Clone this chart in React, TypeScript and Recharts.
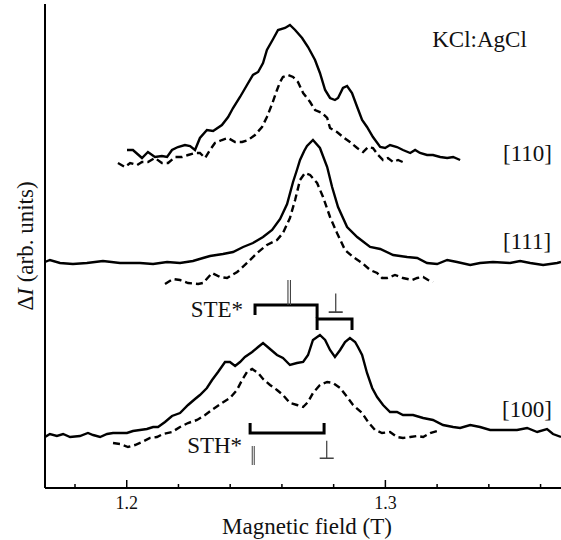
import React from "react";
import { LineChart, Line, XAxis, YAxis, ReferenceDot } from "recharts";

// ---- data: [magnetic field (T), ΔI (arb. units)] ----
const S110_SOLID: number[][] = [
  [1.2001,33.8],[1.2024,33.8],[1.2059,33.0],[1.2082,33.6],[1.2109,33.1],[1.2136,33.2],[1.2156,33.1],[1.2175,33.8],[1.2198,34.1],[1.2225,34.3],[1.2245,34.2],[1.2264,33.8],[1.2283,35.0],[1.2310,35.8],[1.2334,35.7],[1.2368,36.3],[1.2392,37.1],[1.2411,38.0],[1.2438,39.1],[1.2465,40.3],[1.2488,41.3],[1.2508,41.6],[1.2527,42.5],[1.2542,43.8],[1.2566,44.9],[1.2585,45.8],[1.2612,46.0],[1.2631,46.3],[1.2651,45.8],[1.2678,45.0],[1.2701,44.1],[1.2728,42.8],[1.2747,41.5],[1.2767,39.8],[1.2786,39.0],[1.2805,38.8],[1.2817,39.0],[1.2836,40.0],[1.2852,40.2],[1.2871,39.5],[1.2891,38.1],[1.2910,36.8],[1.2929,36.1],[1.2952,35.1],[1.2980,34.1],[1.2999,34.0],[1.3018,34.3],[1.3045,34.1],[1.3068,33.8],[1.3096,33.5],[1.3115,33.8],[1.3134,33.5],[1.3161,33.3],[1.3184,33.3],[1.3212,33.1],[1.3239,33.0],[1.3262,33.1],[1.3289,32.8],
];
const S110_DASHED: number[][] = [
  [1.1966,32.5],[1.1993,32.1],[1.2013,32.5],[1.2040,32.3],[1.2059,32.6],[1.2082,32.6],[1.2109,33.0],[1.2136,32.5],[1.2160,32.5],[1.2187,33.1],[1.2214,33.1],[1.2237,33.3],[1.2264,33.5],[1.2283,33.5],[1.2303,33.0],[1.2322,33.8],[1.2341,34.5],[1.2368,34.8],[1.2392,35.0],[1.2419,34.6],[1.2446,34.6],[1.2469,34.8],[1.2496,35.3],[1.2523,36.1],[1.2542,37.1],[1.2562,38.4],[1.2581,39.8],[1.2593,40.6],[1.2604,41.1],[1.2624,41.3],[1.2643,41.1],[1.2662,40.6],[1.2682,39.5],[1.2709,38.6],[1.2728,37.8],[1.2755,37.5],[1.2775,37.0],[1.2786,36.0],[1.2813,35.6],[1.2836,35.1],[1.2863,34.6],[1.2891,34.0],[1.2914,33.6],[1.2933,34.1],[1.2952,34.0],[1.2972,33.3],[1.2991,32.8],[1.3010,33.0],[1.3030,32.6],[1.3049,32.8],[1.3076,32.5],
];
const S111_SOLID: number[][] = [
  [1.1684,22.6],[1.1703,22.8],[1.1742,22.5],[1.1792,22.4],[1.1846,22.5],[1.1908,22.7],[1.1974,22.5],[1.2051,22.5],[1.2102,22.4],[1.2156,22.6],[1.2206,22.5],[1.2256,22.7],[1.2295,23.0],[1.2322,23.2],[1.2372,23.4],[1.2411,23.6],[1.2450,24.1],[1.2488,24.5],[1.2527,25.1],[1.2562,25.8],[1.2593,26.9],[1.2620,28.4],[1.2643,30.6],[1.2658,31.8],[1.2670,32.8],[1.2686,33.7],[1.2697,34.2],[1.2720,34.8],[1.2747,34.0],[1.2775,32.1],[1.2794,30.1],[1.2817,28.1],[1.2852,26.1],[1.2891,25.1],[1.2941,24.1],[1.2980,23.9],[1.3030,23.3],[1.3084,23.1],[1.3123,23.0],[1.3161,22.5],[1.3200,22.4],[1.3239,22.8],[1.3277,22.6],[1.3328,22.3],[1.3366,22.5],[1.3416,22.6],[1.3482,22.5],[1.3521,22.7],[1.3560,22.5],[1.3610,22.3],[1.3664,22.5],[1.3679,22.6],
];
const S111_DASHED: number[][] = [
  [1.2148,20.4],[1.2179,20.9],[1.2206,20.8],[1.2237,20.5],[1.2276,20.4],[1.2295,20.5],[1.2330,21.5],[1.2361,21.1],[1.2388,21.0],[1.2427,21.6],[1.2465,22.5],[1.2504,23.5],[1.2542,24.3],[1.2581,24.8],[1.2604,25.5],[1.2631,27.0],[1.2651,28.8],[1.2670,30.8],[1.2689,31.5],[1.2709,31.3],[1.2736,30.5],[1.2759,29.1],[1.2786,27.1],[1.2813,25.5],[1.2844,23.8],[1.2875,23.1],[1.2910,22.5],[1.2941,21.8],[1.2968,21.5],[1.2987,21.0],[1.3007,21.0],[1.3037,21.3],[1.3068,21.0],[1.3103,20.8],[1.3123,21.0],[1.3146,21.1],[1.3165,20.8],[1.3184,20.6],
];
const S100_SOLID: number[][] = [
  [1.1684,5.1],[1.1703,5.4],[1.1730,5.2],[1.1754,5.4],[1.1781,5.1],[1.1819,5.2],[1.1850,5.5],[1.1870,5.3],[1.1897,5.1],[1.1924,5.4],[1.1947,5.5],[1.1974,5.5],[1.2001,5.5],[1.2024,5.7],[1.2051,5.8],[1.2078,5.9],[1.2102,6.1],[1.2121,6.1],[1.2148,6.6],[1.2175,7.2],[1.2206,7.5],[1.2237,8.3],[1.2264,8.9],[1.2283,9.3],[1.2310,10.0],[1.2330,10.8],[1.2353,11.6],[1.2380,12.6],[1.2399,12.6],[1.2419,12.2],[1.2438,12.6],[1.2457,13.1],[1.2485,13.6],[1.2508,14.1],[1.2527,14.5],[1.2554,13.9],[1.2581,13.3],[1.2604,13.0],[1.2631,12.3],[1.2658,12.5],[1.2682,12.6],[1.2701,13.3],[1.2720,14.8],[1.2747,15.3],[1.2767,14.8],[1.2786,13.8],[1.2805,13.1],[1.2825,13.8],[1.2844,14.6],[1.2863,15.0],[1.2883,14.6],[1.2894,14.1],[1.2910,13.3],[1.2929,11.5],[1.2949,10.0],[1.2968,9.1],[1.2991,8.3],[1.3018,7.6],[1.3045,7.6],[1.3068,7.3],[1.3107,7.3],[1.3146,7.0],[1.3184,6.8],[1.3223,6.3],[1.3262,6.1],[1.3289,6.0],[1.3328,6.3],[1.3366,6.1],[1.3405,5.8],[1.3455,5.8],[1.3509,5.8],[1.3548,6.0],[1.3587,5.6],[1.3625,5.9],[1.3648,5.4],[1.3679,5.1],
];
const S100_DASHED: number[][] = [
  [1.1947,4.5],[1.1974,4.4],[1.2005,4.1],[1.2032,4.3],[1.2059,4.6],[1.2090,5.0],[1.2117,5.1],[1.2140,5.4],[1.2175,5.6],[1.2206,6.1],[1.2237,6.5],[1.2272,6.8],[1.2303,7.3],[1.2334,7.9],[1.2368,8.5],[1.2399,9.0],[1.2426,9.8],[1.2446,10.8],[1.2465,11.6],[1.2485,11.9],[1.2508,11.5],[1.2527,10.9],[1.2554,10.3],[1.2581,9.8],[1.2604,9.3],[1.2631,8.5],[1.2658,8.3],[1.2682,8.1],[1.2701,8.6],[1.2720,9.5],[1.2747,10.3],[1.2775,10.6],[1.2798,10.5],[1.2825,10.0],[1.2852,9.1],[1.2875,8.3],[1.2910,7.5],[1.2933,6.6],[1.2960,5.8],[1.2987,5.5],[1.3018,5.6],[1.3045,5.1],[1.3068,5.0],[1.3096,5.1],[1.3123,5.2],[1.3146,5.1],[1.3173,5.5],[1.3200,5.7],
];

// brackets (field positions, ΔI levels)
const STE_PARALLEL: number[][] = [[1.2496,17.3],[1.2496,18.3],[1.2736,18.3],[1.2736,17.0]];
const STE_PERP: number[][] = [[1.2736,15.8],[1.2736,16.9],[1.2871,16.9],[1.2871,15.8]];
const STH_BRACKET: number[][] = [[1.2477,6.5],[1.2477,5.5],[1.2763,5.5],[1.2763,6.5]];

const FIELD_TICKS = [1.18, 1.2, 1.22, 1.24, 1.26, 1.28, 1.3, 1.32, 1.34, 1.36];
const FIELD_LABELS = [1.2, 1.3];
const X_DOMAIN = [1.1684, 1.3679];
const Y_DOMAIN = [0, 48.4];

type Note = { text: string; x: number; y: number; anchor: "start" | "middle" | "end"; size: number; central?: boolean; color?: string; sy?: number; ls?: number; soft?: boolean };
const NOTES: Note[] = [
  { text: "KCl:AgCl", x: 1.3181, y: 44.1, anchor: "start", size: 23 },
  { text: "[110]", x: 1.3455, y: 32.7, anchor: "start", size: 23 },
  { text: "[111]", x: 1.3455, y: 23.9, anchor: "start", size: 23 },
  { text: "[100]", x: 1.3451, y: 7.1, anchor: "start", size: 23 },
  { text: "STE*", x: 1.2450, y: 17.1, anchor: "end", size: 23 },
  { text: "STH*", x: 1.2446, y: 3.5, anchor: "end", size: 23 },
  { text: "||", x: 1.2624, y: 19.8, anchor: "middle", size: 22, central: true, color: "#444", sy: 1.25, ls: -2, soft: true },
  { text: "⊥", x: 1.2809, y: 18.5, anchor: "middle", size: 20, central: true, color: "#444", sy: 1.4, soft: true },
  { text: "||", x: 1.2485, y: 3.5, anchor: "middle", size: 20, central: true, color: "#444", sy: 1.1, ls: -2, soft: true },
  { text: "⊥", x: 1.2771, y: 3.8, anchor: "middle", size: 20, central: true, color: "#444", sy: 1.3, soft: true },
];

const FONT = "'Liberation Serif', 'Times New Roman', serif";
const toPts = (arr: number[][]) => arr.map(([x, y]) => ({ x, y }));

const FieldTick = (props: any) => {
  const { x, y, payload } = props;
  const v = payload.value as number;
  const major = FIELD_LABELS.some((m) => Math.abs(m - v) < 1e-6);
  return (
    <g>
      <line x1={x} x2={x} y1={y} y2={y - (major ? 8 : 4)} stroke="#000" strokeWidth={1.5} />
      {major && (
        <text x={x} y={y + 21} textAnchor="middle" fontSize={18} fontFamily={FONT} fill="#111">
          {v.toFixed(1)}
        </text>
      )}
    </g>
  );
};

const XTitle = (props: any) => {
  const vb = props.viewBox || { x: 45, y: 488, width: 516, height: 52 };
  return (
    <text x={vb.x + vb.width / 2 + 4} y={vb.y + 46} textAnchor="middle" fontSize={23} fontFamily={FONT} fill="#111">
      Magnetic field (T)
    </text>
  );
};

const YTitle = (props: any) => {
  const vb = props.viewBox || { x: 0, y: 4, width: 45, height: 484 };
  const cx = vb.x + 25;
  const cy = vb.y + vb.height / 2;
  return (
    <text
      x={cx}
      y={cy}
      transform={`rotate(-90, ${cx}, ${cy})`}
      textAnchor="middle"
      dominantBaseline="central"
      fontSize={23}
      fontFamily={FONT}
      fill="#111"
    >
      <tspan>Δ</tspan>
      <tspan fontStyle="italic">I</tspan>
      <tspan> (arb. units)</tspan>
    </text>
  );
};

const makeNoteShape = (n: Note, i: number) => (props: any) => {
  const fid = `gray-note-${i}`;
  return (
    <g>
      {n.soft && (
        <defs>
          <filter id={fid} x="-50%" y="-50%" width="200%" height="200%">
            <feColorMatrix type="saturate" values="0" />
          </filter>
        </defs>
      )}
      <text
        x={0}
        y={0}
        transform={`translate(${props.cx}, ${props.cy}) scale(1, ${n.sy || 1})`}
        textAnchor={n.anchor}
        dominantBaseline={n.central ? "central" : "alphabetic"}
        fontSize={n.size}
        fontFamily={FONT}
        fill={n.color || "#111"}
        letterSpacing={n.ls || 0}
        filter={n.soft ? `url(#${fid})` : undefined}
      >
        {n.text}
      </text>
    </g>
  );
};

export default function App() {
  const solid = { stroke: "#000", strokeWidth: 2.4, dot: false as const, isAnimationActive: false, type: "linear" as const };
  const dashed = { ...solid, strokeDasharray: "7 4" };
  const bracket = { stroke: "#000", strokeWidth: 3, dot: false as const, isAnimationActive: false, type: "linear" as const };
  return (
    <div style={{ position: "absolute", left: 0, top: 0, width: 561, height: 540, background: "#fff" }}>
      <LineChart width={561} height={540} margin={{ top: 4, right: 0, bottom: 0, left: 0 }}>
        <XAxis
          xAxisId="top"
          orientation="top"
          type="number"
          dataKey="x"
          domain={X_DOMAIN}
          allowDataOverflow
          height={0}
          tick={false}
          tickLine={false}
          axisLine={{ stroke: "#000", strokeWidth: 2 }}
        />
        <XAxis
          type="number"
          dataKey="x"
          domain={X_DOMAIN}
          allowDataOverflow
          ticks={FIELD_TICKS}
          interval={0}
          height={52}
          tickSize={0}
          tickMargin={0}
          tickLine={false}
          tick={<FieldTick />}
          axisLine={{ stroke: "#000", strokeWidth: 2 }}
          label={<XTitle />}
        />
        <YAxis
          type="number"
          dataKey="y"
          domain={Y_DOMAIN}
          allowDataOverflow
          width={45}
          tick={false}
          tickLine={false}
          axisLine={{ stroke: "#000", strokeWidth: 2 }}
          label={<YTitle />}
        />
        <Line data={toPts(S110_SOLID)} dataKey="y" {...solid} />
        <Line data={toPts(S110_DASHED)} dataKey="y" {...dashed} />
        <Line data={toPts(S111_SOLID)} dataKey="y" {...solid} />
        <Line data={toPts(S111_DASHED)} dataKey="y" {...dashed} />
        <Line data={toPts(S100_SOLID)} dataKey="y" {...solid} />
        <Line data={toPts(S100_DASHED)} dataKey="y" {...dashed} />
        <Line data={toPts(STE_PARALLEL)} dataKey="y" {...bracket} />
        <Line data={toPts(STE_PERP)} dataKey="y" {...bracket} />
        <Line data={toPts(STH_BRACKET)} dataKey="y" {...bracket} />
        {NOTES.map((n, i) => (
          <ReferenceDot key={i} x={n.x} y={n.y} r={0} ifOverflow="visible" shape={makeNoteShape(n, i)} />
        ))}
      </LineChart>
    </div>
  );
}
